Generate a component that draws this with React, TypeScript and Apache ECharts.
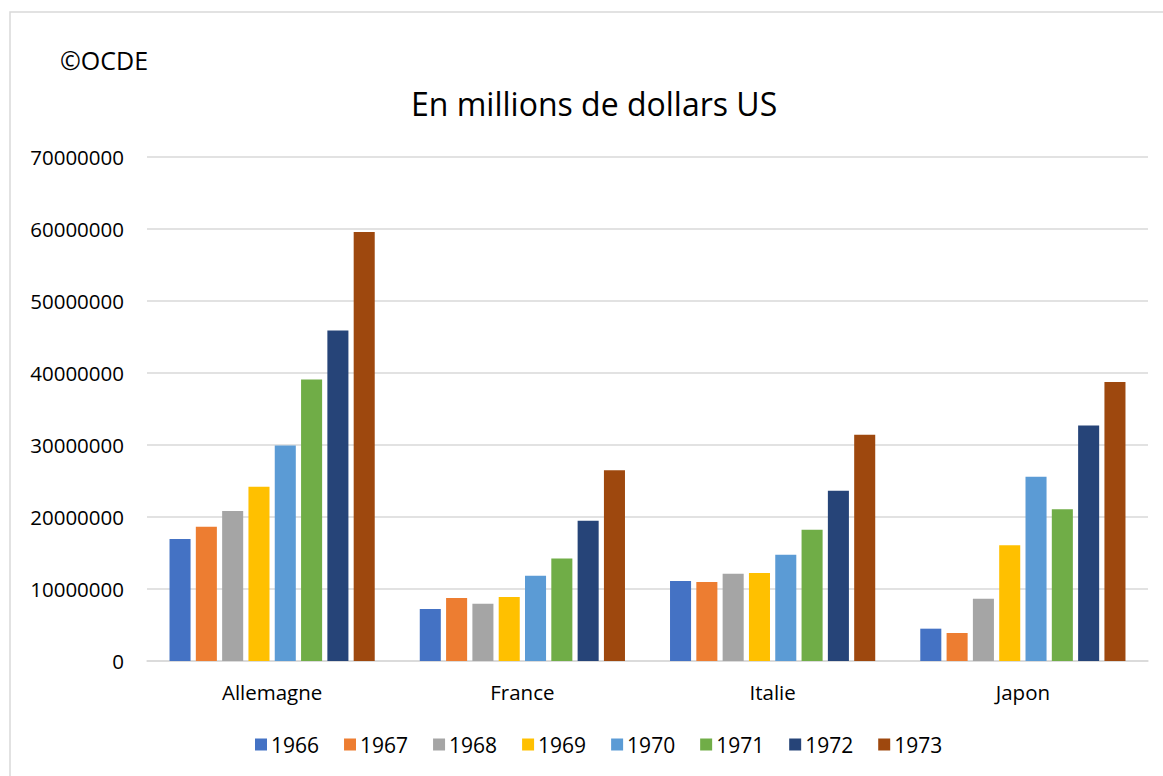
import React, { useEffect, useRef } from "react";
import * as echarts from "echarts";

const categories = ["Allemagne", "France", "Italie", "Japon"];
const years = ["1966", "1967", "1968", "1969", "1970", "1971", "1972", "1973"];
const v1966 = [16950000, 7220000, 11100000, 4490000];
const v1967 = [18650000, 8750000, 10970000, 3890000];
const v1968 = [20830000, 7960000, 12130000, 8650000];
const v1969 = [24210000, 8890000, 12220000, 16060000];
const v1970 = [29940000, 11850000, 14760000, 25600000];
const v1971 = [39100000, 14250000, 18240000, 21060000];
const v1972 = [45900000, 19490000, 23650000, 32700000];
const v1973 = [59600000, 26500000, 31430000, 38750000];
const seriesValues = [v1966, v1967, v1968, v1969, v1970, v1971, v1972, v1973];
const colors = ["#4472C4", "#ED7D31", "#A5A5A5", "#FFC000", "#5B9BD5", "#70AD47", "#264478", "#9E480E"];
const titleText = "En millions de dollars US";
const sourceText = "©OCDE";

const FONT = "'Open Sans', sans-serif";

export default function App() {
  const ref = useRef<HTMLDivElement>(null);
  useEffect(() => {
    document.body.style.margin = "0";
    const chart = echarts.init(ref.current!, null, { renderer: "svg" });
    chart.setOption({
      animation: false,
      backgroundColor: "#ffffff",
      textStyle: { fontFamily: FONT },
      title: {
        text: titleText,
        left: 406,
        top: 82,
        textStyle: { fontFamily: FONT, fontSize: 32, fontWeight: "normal", color: "#000" },
      },
      graphic: [
        {
          type: "rect",
          shape: { x: 10, y: 12, width: 1170, height: 780 },
          style: { fill: "none", stroke: "#d9d9d9", lineWidth: 1.5 },
          silent: true,
        },
        {
          type: "text",
          x: 60,
          y: 47,
          style: { text: sourceText, fontFamily: FONT, fontSize: 25, fill: "#000" },
        },
      ],
      legend: {
        data: years,
        bottom: 16,
        left: 250,
        itemWidth: 12,
        itemHeight: 12,
        itemGap: 25,
        icon: "rect",
        textStyle: { fontFamily: FONT, fontSize: 21, color: "#000", padding: [0, 0, 0, -1] },
      },
      grid: { left: 147, right: 15, top: 157, bottom: 115 },
      xAxis: {
        type: "category",
        data: categories,
        axisLine: { lineStyle: { color: "#d9d9d9", width: 1.5 } },
        axisTick: { show: false },
        axisLabel: { fontFamily: FONT, fontSize: 20.5, color: "#000", margin: 20 },
      },
      yAxis: {
        type: "value",
        min: 0,
        max: 70000000,
        interval: 10000000,
        axisLine: { show: false },
        axisTick: { show: false },
        splitLine: { lineStyle: { color: "#d9d9d9", width: 1.5 } },
        axisLabel: {
          fontFamily: FONT,
          fontSize: 20.5,
          color: "#000",
          margin: 23,
          formatter: (v: number) => String(v),
        },
      },
      series: years.map((y, i) => ({
        name: y,
        type: "bar",
        data: seriesValues[i],
        itemStyle: { color: colors[i] },
        barGap: "25%",
        barCategoryGap: "18%",
      })),
    });
    return () => chart.dispose();
  }, []);
  return <div ref={ref} style={{ width: 1163, height: 776 }} />;
}
